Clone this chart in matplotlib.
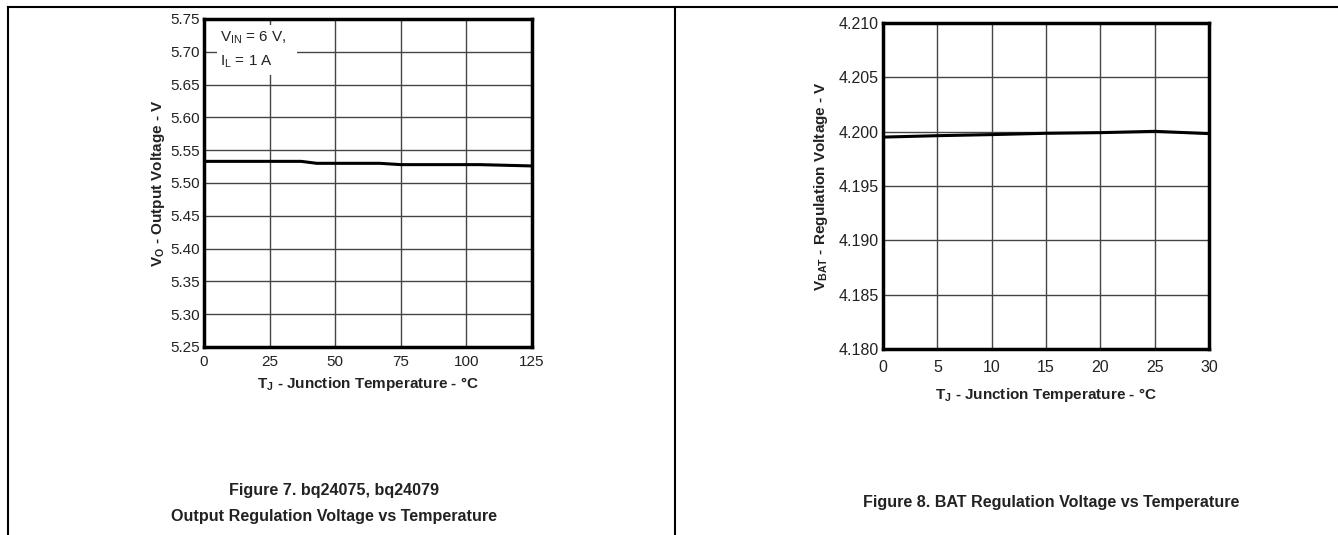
import matplotlib
matplotlib.use('Agg')
import matplotlib.pyplot as plt
from matplotlib.lines import Line2D
from matplotlib.patches import Rectangle

plt.rcParams['font.family'] = ['Liberation Sans', 'DejaVu Sans']
plt.rcParams['mathtext.fontset'] = 'custom'
plt.rcParams['mathtext.rm'] = 'Liberation Sans'
plt.rcParams['mathtext.bf'] = 'Liberation Sans:bold'

# Figure 7 - output regulation voltage vs junction temperature
temp_7 = [0, 25, 37, 43, 50, 67, 75, 85, 105, 125]
vout_7 = [5.533, 5.533, 5.533, 5.530, 5.530, 5.530, 5.528, 5.528, 5.528, 5.526]
xticks_7 = [0, 25, 50, 75, 100, 125]
yticks_7 = [5.25, 5.30, 5.35, 5.40, 5.45, 5.50, 5.55, 5.60, 5.65, 5.70, 5.75]

# Figure 8 - BAT regulation voltage vs junction temperature
temp_8 = [0, 5, 10, 15, 20, 25, 30]
vbat_8 = [4.1995, 4.19963, 4.19973, 4.19985, 4.19991, 4.20003, 4.19982]
xticks_8 = [0, 5, 10, 15, 20, 25, 30]
yticks_8 = [4.180, 4.185, 4.190, 4.195, 4.200, 4.205, 4.210]

W, H = 1338, 535
fig = plt.figure(figsize=(W / 100, H / 100), dpi=100)


def px_axes(x0, y0, x1, y1):
    return fig.add_axes([x0 / W, 1 - y1 / H, (x1 - x0) / W, (y1 - y0) / H])


def style(ax, size):
    ax.grid(True, color='#454545', lw=1.0)
    ax.set_axisbelow(True)
    for s in ax.spines.values():
        s.set_linewidth(2.5)
        s.set_color('black')
    ax.tick_params(length=0, labelsize=size, colors='#222222')
    ax.tick_params(axis='x', pad=6)
    ax.tick_params(axis='y', pad=3)


# left chart
ax1 = px_axes(204, 19, 532, 347)
ax1.plot(temp_7, vout_7, color='black', lw=2.2, zorder=3)
ax1.set_xlim(0, 125)
ax1.set_ylim(5.25, 5.75)
ax1.set_xticks(xticks_7)
ax1.set_yticks(yticks_7)
ax1.set_yticklabels([f'{v:.2f}' for v in yticks_7])
style(ax1, 11)
ax1.set_xlabel(r'$\mathbf{T_J}$ - Junction Temperature - °C', fontsize=11,
               fontweight='bold', labelpad=4, color='#222222')
ax1.set_ylabel(r'$\mathbf{V_O}$ - Output Voltage - V', fontsize=11,
               fontweight='bold', labelpad=2, color='#222222')
ax1.add_patch(Rectangle((5.0, 5.665), 30.4, 0.076, facecolor='white',
                        edgecolor='none', zorder=2))
ax1.text(6.0, 5.722, r'$\mathregular{V_{IN}}$ = 6 V,', fontsize=11,
         va='center', ha='left', zorder=4, color='#222222')
ax1.text(6.0, 5.684, r'$\mathregular{I_L}$ = 1 A', fontsize=11,
         va='center', ha='left', zorder=4, color='#222222')

# right chart
ax2 = px_axes(883, 23, 1209, 349)
ax2.plot(temp_8, vbat_8, color='black', lw=2.2, zorder=3)
ax2.set_xlim(0, 30)
ax2.set_ylim(4.180, 4.210)
ax2.set_xticks(xticks_8)
ax2.set_yticks(yticks_8)
ax2.set_yticklabels([f'{v:.3f}' for v in yticks_8])
style(ax2, 11.5)
ax2.tick_params(axis='x', pad=8)
ax2.set_xlabel(r'$\mathbf{T_J}$ - Junction Temperature - °C', fontsize=11,
               fontweight='bold', labelpad=8, color='#222222')
ax2.set_ylabel(r'$\mathbf{V_{BAT}}$ - Regulation Voltage - V', fontsize=11,
               fontweight='bold', labelpad=6, color='#222222')

# page frame lines
fig.add_artist(Line2D([8 / W, 1], [1 - 7 / H, 1 - 7 / H], color='black', lw=1.5))
fig.add_artist(Line2D([8 / W, 8 / W], [0, 1 - 7 / H], color='black', lw=1.5))
fig.add_artist(Line2D([675 / W, 675 / W], [0, 1 - 7 / H], color='black', lw=1.5))

# captions
fig.text(334 / W, 1 - 491 / H, 'Figure 7. bq24075, bq24079', fontsize=11.6,
         fontweight='bold', ha='center', va='center', color='#222222')
fig.text(334 / W, 1 - 517 / H, 'Output Regulation Voltage vs Temperature',
         fontsize=11.6, fontweight='bold', ha='center', va='center', color='#222222')
fig.text(1051 / W, 1 - 502 / H, 'Figure 8. BAT Regulation Voltage vs Temperature',
         fontsize=11.6, fontweight='bold', ha='center', va='center', color='#222222')

fig.savefig('out.png', dpi=100)
